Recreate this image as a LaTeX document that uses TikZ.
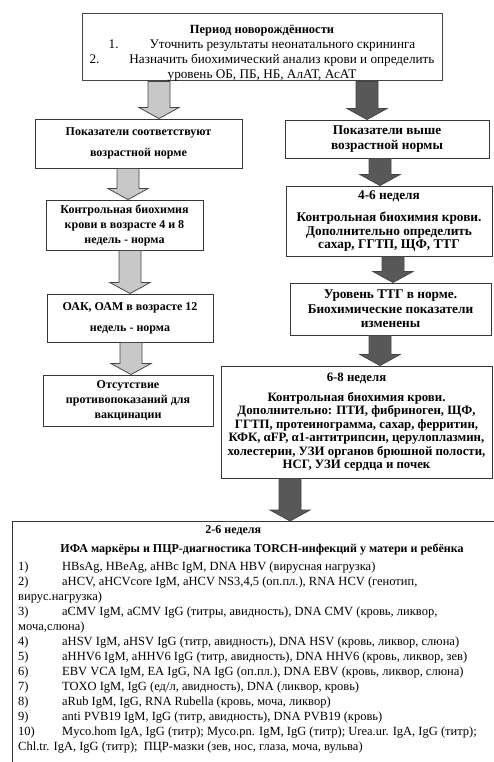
\documentclass[tikz,border=0pt]{standalone}
\usepackage{fontspec}
\setmainfont{Liberation Serif}
\usetikzlibrary{calc}
\definecolor{boxline}{RGB}{55,55,55}
\definecolor{lightarrow}{RGB}{200,200,200}
\definecolor{darkarrow}{RGB}{88,88,88}
\definecolor{arrowline}{RGB}{70,70,70}

\tikzset{
  stepbox/.style={draw=boxline, line width=0.9pt, fill=white, align=center,
    font=\bfseries\fontsize{12}{15}\selectfont, inner sep=0pt},
  rightbox/.style={stepbox, font=\bfseries\fontsize{13.3}{13.5}\selectfont},
  plaintext/.style={font=\fontsize{12.5}{15}\selectfont, inner sep=0pt, align=left},
  lightfill/.style={fill=lightarrow, draw=arrowline, line width=0.8pt},
  darkfill/.style={fill=darkarrow, draw=arrowline, line width=0.8pt},
}

% block arrow: style, x, from node, to node
\newcommand{\blockarrow}[4]{%
  \path (#3.south -| #2,0) coordinate (as) (#4.north -| #2,0) coordinate (ae);
  \draw[#1] ($(as)+(-11,0)$) -- ($(ae)+(-11,-11)$) -- ($(ae)+(-20,-11)$) -- (ae)
    -- ($(ae)+(20,-11)$) -- ($(ae)+(11,-11)$) -- ($(as)+(11,0)$) -- cycle;
}
\newcommand{\num}[1]{\makebox[44pt][l]{#1}}

\begin{document}
\begin{tikzpicture}[x=1pt, y=-1pt]
  \useasboundingbox (0,0) rectangle (494,762);

  % newborn period
  \node[stepbox, minimum width=360, minimum height=66, draw=arrowline,
        font=\mdseries\fontsize{13.2}{15}\selectfont] (newborn) at (262,47)
    {\rule{0pt}{20pt}\bfseries\fontsize{12.5}{15}\selectfont Период новорождённости\\
     1.\hspace{31pt}Уточнить результаты неонатального скрининга\\
     2.\hspace{30pt}Назначить биохимический анализ крови и определить\\
     уровень ОБ, ПБ, НБ, АлАТ, АсАТ};

  % left branch
  \node[stepbox, minimum width=207, minimum height=49] (normal) at (138.5,143.5)
    {Показатели соответствуют\\[6pt]возрастной норме};
  \node[stepbox, minimum width=157, minimum height=50] (ctrlleft) at (124.5,225)
    {Контрольная биохимия\\крови в возрасте 4 и 8\\недель - норма};
  \node[stepbox, minimum width=166, minimum height=48] (oak) at (130,318)
    {ОАК, ОАМ в возрасте 12\\[6pt]недель - норма};
  \node[stepbox, minimum width=170, minimum height=51] (vaccine) at (128,400.5)
    {Отсутствие\\противопоказаний для\\вакцинации};

  % right branch
  \node[rightbox, minimum width=204, minimum height=38] (above) at (387,139)
    {Показатели выше\\[1pt]возрастной нормы};
  \node[rightbox, minimum width=206, minimum height=70] (week46) at (389,221)
    {4-6 неделя\\[9pt]Контрольная биохимия крови.\\Дополнительно определить\\сахар, ГГТП, ЩФ, ТТГ};
  \node[rightbox, minimum width=201, minimum height=52] (ttg) at (390.5,309)
    {Уровень ТТГ в норме.\\[1pt]Биохимические показатели\\[1pt]изменены};
  \node[rightbox, minimum width=271, minimum height=112, font=\bfseries\fontsize{12.8}{13.4}\selectfont]
    (week68) at (356.5,422)
    {6-8 неделя\\[7pt]Контрольная биохимия крови.\\Дополнительно: ПТИ, фибриноген, ЩФ,\\
     ГГТП, протеинограмма, сахар, ферритин,\\КФК, αFP, α1-антитрипсин, церулоплазмин,\\
     холестерин, УЗИ органов брюшной полости,\\НСГ, УЗИ сердца и почек};

  % TORCH
  \node[draw=boxline, line width=0.9pt, anchor=north west, minimum width=520, minimum height=280]
    (torch) at (12,521) {};
  \node[stepbox, draw=none, fill=none, anchor=north west] (torchweek) at ($(torch.north west)+(193,4)$)
    {2-6 неделя};
  \node[stepbox, draw=none, fill=none, anchor=north] (torchtitle) at ($(torch.north west)+(250,22)$)
    {ИФА маркёры и ПЦР-диагностика TORCH-инфекций у матери и ребёнка};
  \node[plaintext, anchor=north west] (torchlist) at ($(torch.north west)+(6,41)$)
    {\num{1)}HBsAg, HBeAg, aHBc IgM, DNA HBV (вирусная нагрузка)\\
     \num{2)}aHCV, aHCVcore IgM, aHCV NS3,4,5 (оп.пл.), RNA HCV (генотип,\\
     вирус.нагрузка)\\
     \num{3)}aCMV IgM, aCMV IgG (титры, авидность), DNA CMV (кровь, ликвор,\\
     моча,слюна)\\
     \num{4)}aHSV IgM, aHSV IgG (титр, авидность), DNA HSV (кровь, ликвор, слюна)\\
     \num{5)}aHHV6 IgM, aHHV6 IgG (титр, авидность), DNA HHV6 (кровь, ликвор, зев)\\
     \num{6)}EBV VCA IgM, EA IgG, NA IgG (оп.пл.), DNA EBV (кровь, ликвор, слюна)\\
     \num{7)}TOXO IgM, IgG (ед/л, авидность), DNA (ликвор, кровь)\\
     \num{8)}aRub IgM, IgG, RNA Rubella (кровь, моча, ликвор)\\
     \num{9)}anti PVB19 IgM, IgG (титр, авидность), DNA PVB19 (кровь)\\
     \num{10)}Myco.hom IgA, IgG (титр); Myco.pn. IgM, IgG (титр); Urea.ur. IgA, IgG (титр);\\
     Chl.tr. IgA, IgG (титр);\ \ ПЦР-мазки (зев, нос, глаза, моча, вульва)};

  % arrows
  \blockarrow{lightfill}{159}{newborn}{normal}
  \blockarrow{lightfill}{128}{normal}{ctrlleft}
  \blockarrow{lightfill}{130}{ctrlleft}{oak}
  \blockarrow{lightfill}{131}{oak}{vaccine}
  \blockarrow{darkfill}{367}{newborn}{above}
  \blockarrow{darkfill}{380}{above}{week46}
  \blockarrow{darkfill}{393}{week46}{ttg}
  \blockarrow{darkfill}{380}{ttg}{week68}
  \blockarrow{darkfill}{290}{week68}{torch}
\end{tikzpicture}
\end{document}
